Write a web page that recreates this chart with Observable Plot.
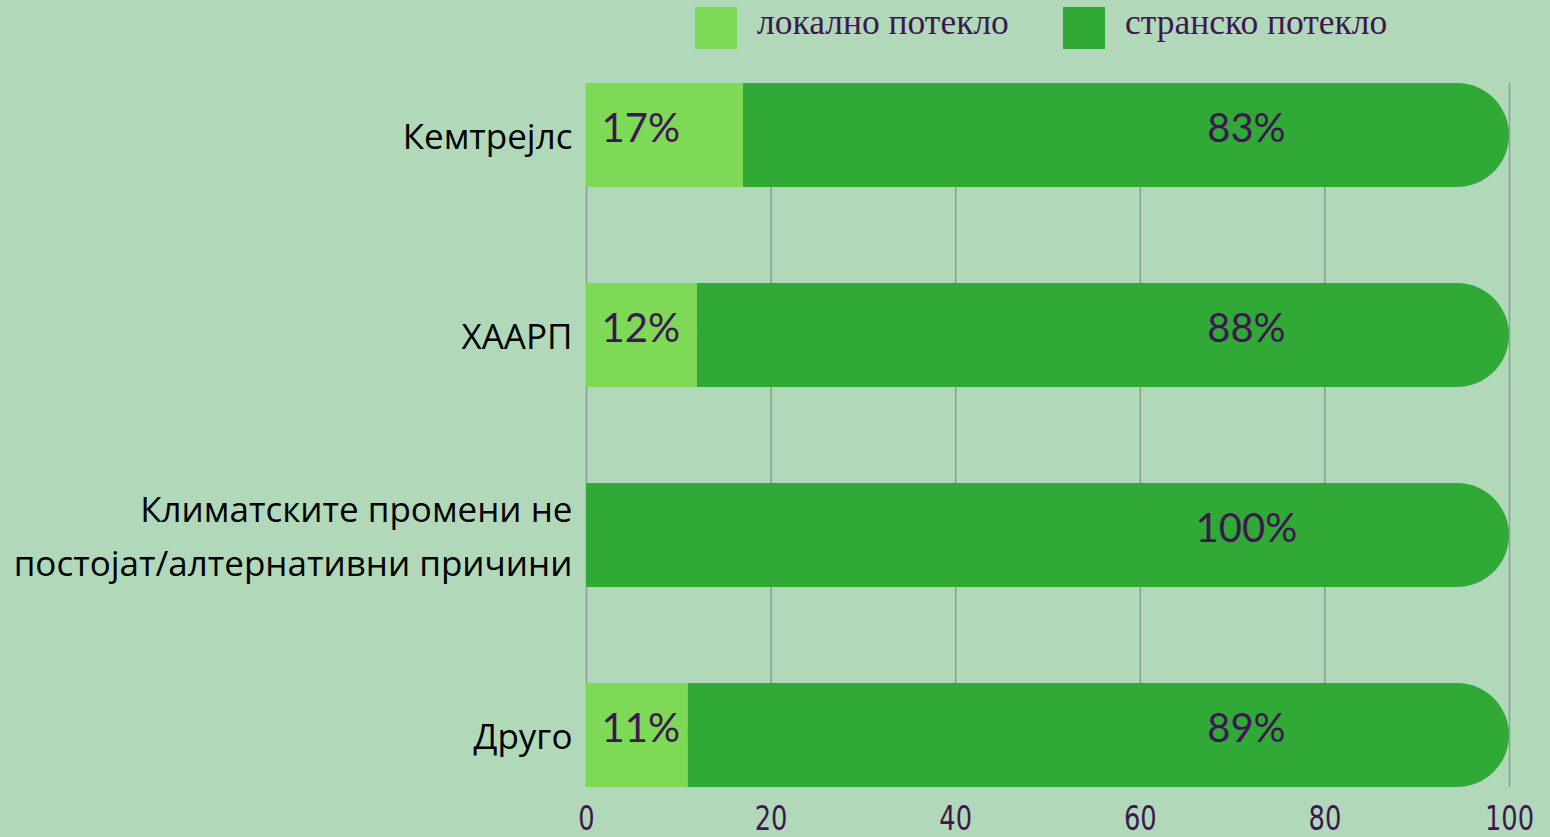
<!DOCTYPE html>
<html>
<head>
<meta charset="utf-8">
<script src="https://cdn.jsdelivr.net/npm/d3@7"></script>
<script src="https://cdn.jsdelivr.net/npm/@observablehq/plot@0.6"></script>
<style>
  html, body { margin: 0; padding: 0; background: #b1d9b9; }
  #legend { height: 55px; position: relative; font-family: "Liberation Serif", "DejaVu Serif", serif; font-size: 35.5px; color: #3d1850; }
  .item { position: absolute; top: 7px; display: flex; align-items: center; height: 42px; }
  .sw { width: 42px; height: 42px; margin-right: 20px; }
  .item span { position: relative; top: -6px; }
  g[aria-label="x-axis tick label"] { font-family: "DejaVu Sans", sans-serif; font-size: 33px; fill: #3d1850; }
</style>
</head>
<body>
<div id="legend"></div>
<div id="chart"></div>
<script>
const categories = ["Кемтрејлс", "ХААРП", "Климатските промени не\nпостојат/алтернативни причини", "Друго"];
const localValues = [17, 12, 0, 11];
const foreignValues = [83, 88, 100, 89];
const xTicks = [0, 20, 40, 60, 80, 100];
const seriesNames = ["локално потекло", "странско потекло"];
const seriesColors = ["#7ed957", "#31a936"];

const data = categories.map((c, i) => ({c, local: localValues[i], foreign: foreignValues[i]}));
const purple = "#3d1850";

// legend
const legend = document.getElementById("legend");
const legendX = [695, 1063];
seriesNames.forEach((n, i) => {
  const it = document.createElement("div");
  it.className = "item";
  it.style.left = legendX[i] + "px";
  it.innerHTML = `<div class="sw" style="background:${seriesColors[i]}"></div><span>${n}</span>`;
  legend.appendChild(it);
});

const chart = Plot.plot({
  width: 1550,
  height: 782,
  marginLeft: 586,
  marginRight: 41,
  marginTop: 28,
  marginBottom: 50,
  style: {background: "transparent", fontFamily: "Open Sans", overflow: "visible"},
  x: {domain: [0, 100], axis: null, label: null},
  y: {domain: categories, paddingInner: 0.48, paddingOuter: 0, axis: null, label: null},
  marks: [
    Plot.gridX(xTicks, {stroke: "#8f9c94", strokeOpacity: 1, strokeWidth: 1.5}),
    Plot.barX(data, {y: "c", x1: "local", x2: d => d.local + d.foreign, fill: seriesColors[1], rx: 52}),
    Plot.barX(data, {y: "c", x1: "local", x2: d => d.local + d.foreign / 2, fill: seriesColors[1]}),
    Plot.barX(data.filter(d => d.local > 0), {y: "c", x1: 0, x2: "local", fill: seriesColors[0]}),
    Plot.text(data.filter(d => d.local > 0), {y: "c", x: 0, text: d => d.local + "%", textAnchor: "start", dx: 15, dy: -6, fill: purple, fontSize: 40, fontFamily: "Lato"}),
    Plot.text(data, {y: "c", x: 71.5, text: d => d.foreign + "%", textAnchor: "middle", dy: -6, fill: purple, fontSize: 40, fontFamily: "Lato"}),
    Plot.text(data, {y: "c", x: 0, text: "c", textAnchor: "end", dx: -14, dy: -4, fill: "#000", fontSize: 35, fontFamily: "Open Sans", lineHeight: 1.55}),
    Plot.axisX(xTicks, {tickSize: 0, tickPadding: 19, anchor: "bottom", label: null})
  ]
});
// condense the tick labels horizontally, as in the original's narrow face
chart.querySelectorAll('g[aria-label="x-axis tick label"] text').forEach(t => {
  const tr = t.getAttribute("transform") || "";
  t.setAttribute("transform", tr + " scale(0.78,1)");
});
document.getElementById("chart").appendChild(chart);
</script>
</body>
</html>
